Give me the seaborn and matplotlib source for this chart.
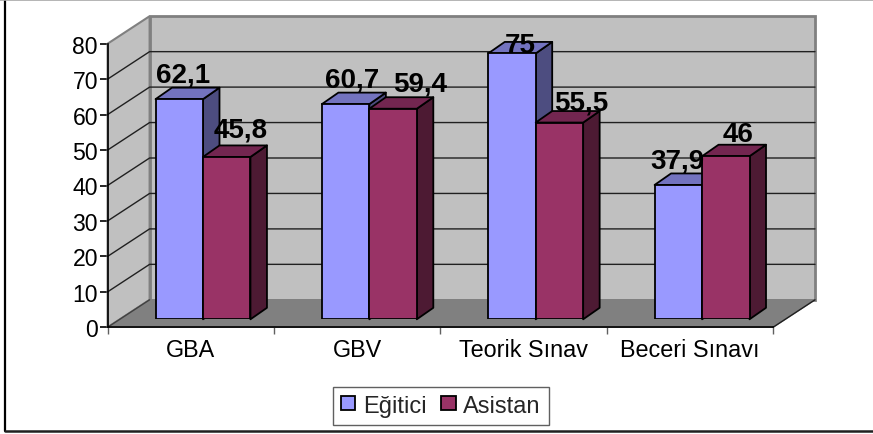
import matplotlib
matplotlib.use("Agg")
import matplotlib.pyplot as plt
from matplotlib.lines import Line2D
from matplotlib.patches import Polygon
from matplotlib.transforms import IdentityTransform
import pandas as pd
import seaborn as sns

categories = ["GBA", "GBV", "Teorik Sınav", "Beceri Sınavı"]
egitici = [62.1, 60.7, 75, 37.9]
asistan = [45.8, 59.4, 55.5, 46]
series_names = ["Eğitici", "Asistan"]
y_ticks = [0, 10, 20, 30, 40, 50, 60, 70, 80]

# Label nudges in pixels (right, up) from the top centre of each bar's front face
label_nudges = [[(4, 18), (7, 18), (8, 1), (-1, 17)],
                [(14, 20), (27, 18), (22, 13), (12, 15)]]

FRONT = ["#9999FF", "#993366"]
TOP = ["#7373BF", "#732650"]
SIDE = ["#4D4D80", "#4D1A33"]
WALL = "#C0C0C0"
FLOOR = "#808080"
EDGE = "#808080"

W, H = 873, 435
LEFT, RIGHT, Y0, Y80 = 107.6, 773.0, 328.3, 44.7
DEPTH = (42.0, 27.5)       # full floor depth in pixels
BAR_INSET = 8.0 / 27.5     # bars stand this fraction of the way into the floor
BAR_DEPTH = (16.5, 11.5)   # depth of each bar in pixels

sns.set_theme(style="white")
plt.rcParams["font.family"] = ["Liberation Sans", "DejaVu Sans"]

df = pd.DataFrame({
    "kategori": categories * 2,
    "seri": [series_names[0]] * 4 + [series_names[1]] * 4,
    "deger": egitici + asistan,
})


def axes_rect(dx=0.0, dy=0.0):
    return [(LEFT + dx) / W, (H - Y0 + dy) / H, (RIGHT - LEFT) / W, (Y0 - Y80) / H]


fig = plt.figure(figsize=(W / 100, H / 100), dpi=100, facecolor="white")

# Frame axes: the front plane of the chart box, carrying walls, floor and ticks
frame = fig.add_axes(axes_rect(), zorder=1)
frame.set_xlim(-0.5, 3.5)
frame.set_ylim(0, 80)
frame.patch.set_visible(False)
for name in ("top", "right"):
    frame.spines[name].set_visible(False)
for name in ("left", "bottom"):
    frame.spines[name].set_color("black")
    frame.spines[name].set_linewidth(1.2)
    frame.spines[name].set_zorder(6)


def project(x, y, d=0.0):
    px, py = frame.transData.transform((x, y))
    return (px + d * DEPTH[0], py + d * DEPTH[1])


def face(points, **kw):
    frame.add_patch(Polygon(points, closed=True, transform=IdentityTransform(),
                            clip_on=False, **kw))


# Back wall, left wall and floor
face([project(-0.5, 0, 1), project(3.5, 0, 1), project(3.5, 80, 1), project(-0.5, 80, 1)],
     facecolor=WALL, edgecolor=EDGE, linewidth=2, zorder=1)
face([project(-0.5, 0), project(-0.5, 0, 1), project(-0.5, 80, 1), project(-0.5, 80)],
     facecolor=WALL, edgecolor=EDGE, linewidth=1.5, zorder=1.5)
face([project(-0.5, 0), project(3.5, 0), project(3.5, 0, 1), project(-0.5, 0, 1)],
     facecolor=FLOOR, edgecolor=FLOOR, linewidth=1, zorder=2)
frame.add_line(Line2D(*zip(project(3.5, 0), project(3.5, 0, 1)), color="#202020",
                      linewidth=1.0, transform=IdentityTransform(), clip_on=False, zorder=5))
frame.add_line(Line2D(*zip(project(-0.5, 0), project(-0.5, 0, 1)), color="#404040",
                      linewidth=1.0, transform=IdentityTransform(), clip_on=False, zorder=5))

# Gridlines run across the left wall and along the back wall
for tick in y_ticks[1:-1]:
    corner = project(-0.5, tick, 1)
    frame.add_line(Line2D(*zip(project(-0.5, tick), corner, project(3.5, tick, 1)),
                          color="#202020", linewidth=1.0,
                          transform=IdentityTransform(), clip_on=False, zorder=1.8))

frame.set_yticks(y_ticks)
frame.set_xticks([-0.5, 0.5, 1.5, 2.5, 3.5])
frame.set_xticklabels([])
frame.set_xticks([0, 1, 2, 3], labels=categories, minor=True)
frame.tick_params(axis="y", left=True, length=6, width=1.2, color="black", pad=1,
                  labelsize=16.6, labelcolor="black")
frame.tick_params(axis="x", which="major", bottom=True, length=5, width=1.0, color="#606060")
frame.tick_params(axis="x", which="minor", bottom=False, length=0, pad=7.5,
                  labelsize=16.8, labelcolor="black")
frame.set_xlabel("")
frame.set_ylabel("")

# Bar axes: same scales, shifted to the plane the bars stand in
ax = fig.add_axes(axes_rect(DEPTH[0] * BAR_INSET, DEPTH[1] * BAR_INSET), zorder=2)
sns.barplot(data=df, x="kategori", y="deger", hue="seri", hue_order=series_names,
            order=categories, palette=FRONT, saturation=1, width=0.5706, gap=0,
            edgecolor="black", linewidth=1.3, errorbar=None, ax=ax)
handles, labels = ax.get_legend_handles_labels()
ax.get_legend().remove()
ax.set_xlim(-0.5, 3.5)
ax.set_ylim(0, 80)
ax.axis("off")
ax.patch.set_visible(False)

for s, container in enumerate(ax.containers):
    for c, bar in enumerate(container):
        x0, y0 = ax.transData.transform((bar.get_x(), 0))
        x1, y1 = ax.transData.transform((bar.get_x() + bar.get_width(), bar.get_height()))
        dx, dy = BAR_DEPTH
        bar.set_zorder(3 + 2 * s)
        style = dict(edgecolor="black", linewidth=1.3, transform=IdentityTransform(),
                     clip_on=False, zorder=2 + 2 * s, joinstyle="round")
        ax.add_patch(Polygon([(x1, y0), (x1 + dx, y0 + dy), (x1 + dx, y1 + dy), (x1, y1)],
                             facecolor=SIDE[s], **style))
        ax.add_patch(Polygon([(x0, y1), (x1, y1), (x1 + dx, y1 + dy), (x0 + dx, y1 + dy)],
                             facecolor=TOP[s], **style))
        value = bar.get_height()
        nudge = label_nudges[s][c]
        ax.annotate(f"{value:g}".replace(".", ","),
                    xy=(bar.get_x() + bar.get_width() / 2, value),
                    xytext=nudge, textcoords="offset pixels", ha="center", va="baseline",
                    fontsize=20, fontweight="bold", color="black", zorder=20,
                    annotation_clip=False)

legend = fig.legend(handles, labels, loc="lower left",
                    bbox_to_anchor=(332.7 / W, 1 - 425.7 / H), bbox_transform=fig.transFigure,
                    ncol=2, fontsize=17, frameon=True, fancybox=False, framealpha=1,
                    edgecolor="#606060", borderpad=0.34, borderaxespad=0,
                    handlelength=0.62, handleheight=0.55, handletextpad=0.32,
                    columnspacing=0.62)
legend.get_frame().set_linewidth(1.0)
for patch in legend.get_patches():
    patch.set_edgecolor("black")
    patch.set_linewidth(1.3)

# Outer chart border: left and bottom black, thin grey along the top
fig.add_artist(Line2D([5 / W, 5 / W], [1 - 432 / H, 1], color="black", linewidth=1.6,
                      transform=fig.transFigure))
fig.add_artist(Line2D([5 / W, 1], [1 - 432 / H, 1 - 432 / H], color="#202020", linewidth=1.8,
                      transform=fig.transFigure))
fig.add_artist(Line2D([0, 1], [1 - 0.6 / H, 1 - 0.6 / H], color="#A8A8A8", linewidth=1.2,
                      transform=fig.transFigure))

fig.savefig("out.png", dpi=100, facecolor="white")
